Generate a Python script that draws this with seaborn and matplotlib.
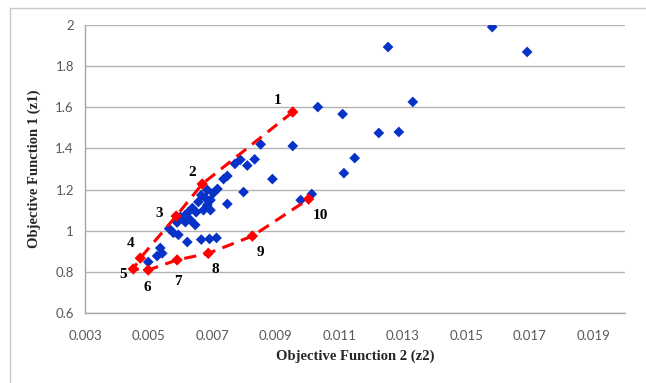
import pandas as pd
import matplotlib.pyplot as plt
import seaborn as sns
from matplotlib.lines import Line2D

# blue solutions (z2, z1)
z2_all = [0.01582, 0.01692, 0.01254, 0.01332, 0.01288, 0.01225, 0.01111, 0.01033,
          0.01149, 0.01115, 0.00853, 0.00954, 0.00890, 0.01014, 0.00979, 0.00789,
          0.00811, 0.00834, 0.00772, 0.00799, 0.00748, 0.00736, 0.00717, 0.00704,
          0.00748, 0.00685, 0.00666, 0.00679, 0.00695, 0.00657, 0.00685, 0.00673,
          0.00695, 0.00650, 0.00638, 0.00625, 0.00616, 0.00600, 0.00632, 0.00647,
          0.00616, 0.00590, 0.00565, 0.00578, 0.00594, 0.00622, 0.00666, 0.00692,
          0.00714, 0.00537, 0.00543, 0.00527, 0.00499]
z1_all = [1.990, 1.869, 1.893, 1.626, 1.480, 1.475, 1.567, 1.601,
          1.353, 1.280, 1.420, 1.412, 1.251, 1.178, 1.149, 1.345,
          1.317, 1.347, 1.325, 1.188, 1.266, 1.251, 1.203, 1.183,
          1.130, 1.198, 1.173, 1.159, 1.149, 1.140, 1.125, 1.100,
          1.100, 1.090, 1.110, 1.090, 1.076, 1.067, 1.052, 1.028,
          1.042, 1.040, 1.010, 0.990, 0.980, 0.945, 0.957, 0.960,
          0.965, 0.916, 0.890, 0.877, 0.848]

# red Pareto front, labelled 1..10
front_ids = ['1', '2', '3', '4', '5', '6', '7', '8', '9', '10']
front_z2 = [0.00954, 0.00669, 0.00587, 0.00474, 0.00452, 0.00499, 0.00590, 0.00688, 0.00827, 0.01004]
front_z1 = [1.577, 1.227, 1.071, 0.867, 0.814, 0.809, 0.858, 0.890, 0.974, 1.154]
label_offsets = [(-15, 12), (-10, 12), (-17, 3), (-10, 15), (-10, -6), (-1, -17),
                 (1, -22), (7, -16), (8, -16), (12, -16)]

x_ticks = [0.003, 0.005, 0.007, 0.009, 0.011, 0.013, 0.015, 0.017, 0.019]
y_ticks = [0.6, 0.8, 1.0, 1.2, 1.4, 1.6, 1.8, 2.0]

df_all = pd.DataFrame({'z2': z2_all, 'z1': z1_all})
df_front = pd.DataFrame({'z2': front_z2, 'z1': front_z1, 'id': front_ids})

sns.set_style('white')
plt.rcParams['font.family'] = ['Lato', 'DejaVu Sans']

fig = plt.figure(figsize=(6.46, 3.83), dpi=100)
ax = fig.add_axes([85 / 646, 1 - 313 / 383, 540 / 646, 288 / 383])

ax.set_axisbelow(True)
ax.yaxis.grid(True, color='#b3b3b3', linewidth=1)

sns.scatterplot(data=df_all, x='z2', y='z1', marker='D', s=30, color='#0632c8',
                edgecolor='none', ax=ax, zorder=3)
sns.lineplot(data=df_front, x='z2', y='z1', sort=False, color='#ff0000', linewidth=2.2,
             dashes=False, ax=ax, zorder=4)
ax.lines[-1].set_dashes((4, 2.5))
sns.scatterplot(data=df_front, x='z2', y='z1', marker='D', s=34, color='#ff0000',
                edgecolor='none', ax=ax, zorder=5)

for (lab, x, y), off in zip(df_front[['id', 'z2', 'z1']].values, label_offsets):
    ax.annotate(lab, (x, y), xytext=off, textcoords='offset pixels',
                ha='center', va='center', fontsize=11, fontweight='bold',
                family=['Liberation Serif'], color='black')

ax.set_xlim(0.003, 0.02)
ax.set_ylim(0.6, 2.0)
ax.set_xticks(x_ticks)
ax.set_xticklabels([f'{v:.3f}' for v in x_ticks])
ax.set_yticks(y_ticks)
ax.set_yticklabels([f'{v:g}' for v in y_ticks])
ax.tick_params(axis='both', length=0, labelsize=9.5, labelcolor='#595959')
ax.tick_params(axis='x', pad=12)
ax.tick_params(axis='y', pad=8)

for side in ['top', 'right']:
    ax.spines[side].set_visible(False)
for side in ['left', 'bottom']:
    ax.spines[side].set_color('#a6a6a6')
    ax.spines[side].set_linewidth(1)

ax.set_xlabel('Objective Function 2 (z2)', fontsize=10.5, fontweight='bold',
              family=['Liberation Serif'], labelpad=6)
ax.set_ylabel('Objective Function 1 (z1)', fontsize=10.5, fontweight='bold',
              family=['Liberation Serif'], labelpad=10)

# light chart-area border (left and top edges)
fig.add_artist(Line2D([10 / 646, 10 / 646], [0, 1 - 8 / 383], transform=fig.transFigure,
                      color='#c8c8c8', linewidth=1))
fig.add_artist(Line2D([10 / 646, 1], [1 - 8 / 383, 1 - 8 / 383], transform=fig.transFigure,
                      color='#c8c8c8', linewidth=1))

plt.savefig('out.png', dpi=100)
